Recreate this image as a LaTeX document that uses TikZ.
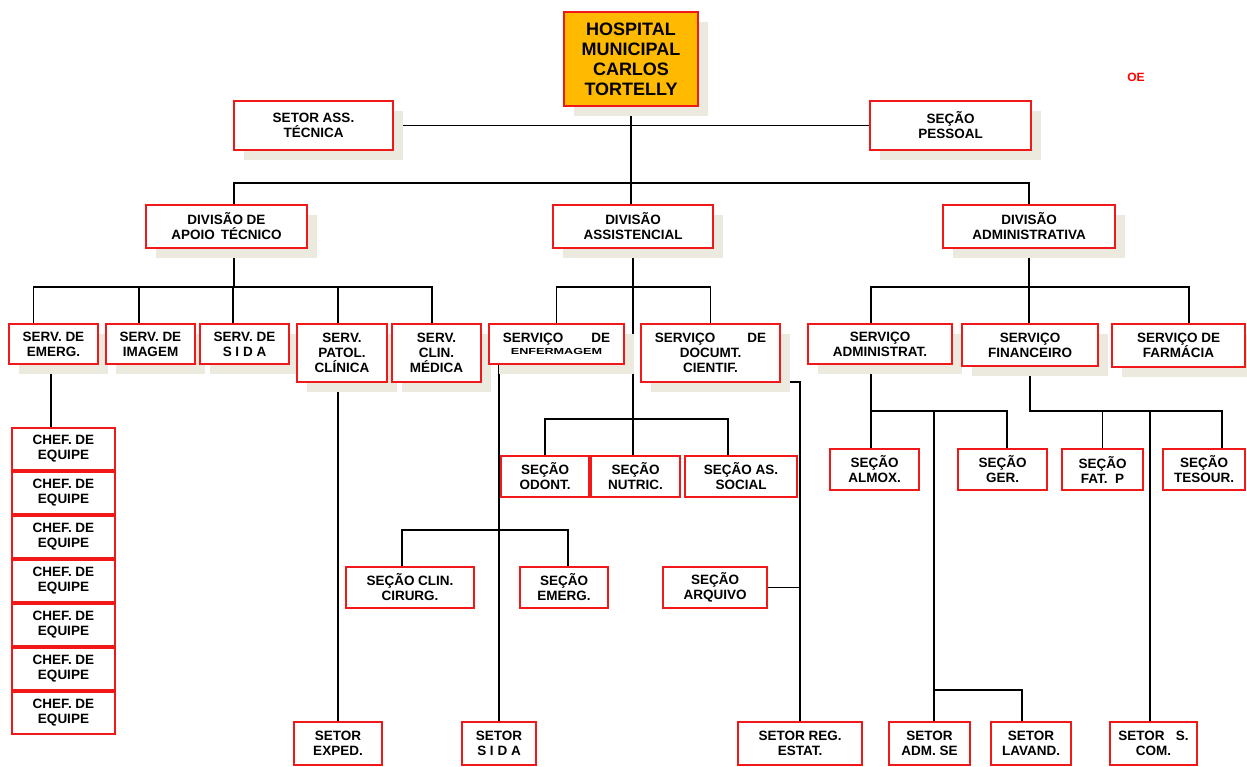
\documentclass[tikz,border=0pt]{standalone}
\usepackage{fontspec}
\usepackage{graphicx}
\setmainfont{Liberation Sans}
\usetikzlibrary{shadows}
\definecolor{boxred}{HTML}{F01818}
\definecolor{hospfill}{HTML}{FFBA00}
\definecolor{shadowcol}{HTML}{ECE9DE}
\pgfdeclarelayer{bg}
\pgfsetlayers{bg,main}
\tikzset{
  box/.style={draw=boxred, line width=1.6pt, fill=white, inner sep=0pt, outer sep=0pt, align=center,
    font=\bfseries\fontsize{13.5}{15}\selectfont},
  sbox/.style={box, drop shadow={shadow xshift=10pt, shadow yshift=-10pt, fill=shadowcol, opacity=1}},
  link/.style={line width=1.4pt, draw=black},
}
\newcommand{\bx}[7]{\node[#1, minimum width=#4 pt - #3 pt, minimum height=#6 pt - #5 pt] (#2) at ({(#3+#4)/2},{(#5+#6)/2}) {#7};}
\begin{document}
\begin{tikzpicture}[x=1pt,y=-1pt]
\useasboundingbox (0,0) rectangle (1247,767);
\begin{pgfonlayer}{bg}
\fill[white] (0,0) rectangle (1247,767);
\end{pgfonlayer}
% top
\node[sbox, fill=hospfill, minimum width=134pt, minimum height=94pt, font=\bfseries\fontsize{18}{20}\selectfont] (hosp) at (631,59) {HOSPITAL\\MUNICIPAL\\CARLOS\\TORTELLY};
\node[text=red, font=\bfseries\fontsize{12}{12}\selectfont] (oe) at (1136,77) {OE};
\bx{sbox}{setorass}{234}{393}{101}{150}{SETOR ASS.\\TÉCNICA}
\bx{sbox}{pessoal}{870}{1031}{101}{150}{SEÇÃO\\PESSOAL}
% divisions
\bx{sbox}{dapoio}{146}{307}{205}{248}{DIVISÃO DE\\APOIO\, TÉCNICO}
\bx{sbox}{dassist}{553}{713}{205}{248}{DIVISÃO\\ASSISTENCIAL}
\bx{sbox}{dadm}{943}{1115}{205}{248}{DIVISÃO\\ADMINISTRATIVA}
% services
\bx{sbox}{emerg}{9}{98}{324}{364}{SERV. DE\\EMERG.}
\bx{sbox}{imagem}{106}{195}{324}{364}{SERV. DE\\IMAGEM}
\bx{sbox}{sida}{200}{289}{324}{364}{SERV. DE\\S I D A}
\bx{sbox}{patol}{297}{387}{324}{382}{SERV.\\PATOL.\\CLÍNICA}
\bx{sbox}{clin}{392}{481}{324}{382}{SERV.\\CLIN.\\MÉDICA}
\bx{sbox}{enf}{489}{624}{324}{364}{SERVIÇO\hspace{28pt}DE\\[-3pt]\scalebox{1.15}[0.8]{\fontsize{11}{12}\selectfont ENFERMAGEM}}
\bx{sbox}{cientif}{641}{780}{324}{382}{SERVIÇO\hspace{32pt}DE\\DOCUMT.\\CIENTIF.}
\bx{sbox}{admstrat}{808}{952}{324}{364}{SERVIÇO\\ADMINISTRAT.}
\bx{sbox}{fin}{962}{1098}{324}{366}{SERVIÇO\\FINANCEIRO}
\bx{sbox}{farm}{1112}{1245}{324}{367}{SERVIÇO DE\\FARMÁCIA}
% sections
\bx{box}{odont}{501}{589}{456}{497}{SEÇÃO\\ODONT.}
\bx{box}{nutric}{591}{680}{456}{497}{SEÇÃO\\NUTRIC.}
\bx{box}{social}{685}{797}{456}{497}{SEÇÃO AS.\\SOCIAL}
\bx{box}{almox}{830}{919}{449}{490}{SEÇÃO\\ALMOX.}
\bx{box}{ger}{958}{1047}{449}{490}{SEÇÃO\\GER.}
\bx{box}{fat}{1062}{1143}{449}{490}{SEÇÃO\\FAT.~~P}
\bx{box}{tesour}{1163}{1245}{449}{490}{SEÇÃO\\TESOUR.}
\bx{box}{clincir}{346}{474}{567}{608}{SEÇÃO CLIN.\\CIRURG.}
\bx{box}{semerg}{520}{608}{567}{608}{SEÇÃO\\EMERG.}
\bx{box}{arquivo}{663}{767}{567}{608}{SEÇÃO\\ARQUIVO}
% chef de equipe
\bx{box}{chefa}{12}{115}{428}{470}{CHEF. DE\\EQUIPE}
\bx{box}{chefb}{12}{115}{472}{514}{CHEF. DE\\EQUIPE}
\bx{box}{chefc}{12}{115}{516}{558}{CHEF. DE\\EQUIPE}
\bx{box}{chefd}{12}{115}{560}{602}{CHEF. DE\\EQUIPE}
\bx{box}{chefe}{12}{115}{604}{646}{CHEF. DE\\EQUIPE}
\bx{box}{cheff}{12}{115}{648}{690}{CHEF. DE\\EQUIPE}
\bx{box}{chefg}{12}{115}{692}{734}{CHEF. DE\\EQUIPE}
% bottom row
\bx{box}{exped}{294}{382}{722}{765}{SETOR\\EXPED.}
\bx{box}{sidab}{462}{536}{722}{765}{SETOR\\S I D A}
\bx{box}{regestat}{738}{862}{722}{765}{SETOR REG.\\ESTAT.}
\bx{box}{admse}{889}{970}{722}{765}{SETOR\\ADM. SE}
\bx{box}{lavand}{991}{1071}{722}{765}{SETOR\\LAVAND.}
\bx{box}{scom}{1110}{1197}{722}{765}{SETOR~~~S.\\COM.}
% bus coordinates
\coordinate (y183) at (0,183);
\coordinate (y287) at (0,287);
\coordinate (y411) at (0,411);
\coordinate (y419) at (0,419);
\coordinate (y530) at (0,530);
\coordinate (y690) at (0,690);
\begin{pgfonlayer}{bg}
% top
\draw[link] (hosp.south) -- (hosp.south |- dassist.north);
\draw[link] (setorass.east) -- (pessoal.west);
\draw[link] ([xshift=7.5]dapoio.north) -- ([xshift=7.5]dapoio.north |- y183) -| (dadm.north);
% apoio
\draw[link] ([xshift=7.5]dapoio.south) -- ([xshift=7.5]dapoio.south |- y287);
\draw[link] ([xshift=-20]emerg.north) -- ([xshift=-20]emerg.north |- y287) -| ([xshift=-4.5]clin.north);
\draw[link] ([xshift=-11.5]imagem.north) -- ([xshift=-11.5]imagem.north |- y287);
\draw[link] ([xshift=-11.5]sida.north) -- ([xshift=-11.5]sida.north |- y287);
\draw[link] ([xshift=-4]patol.north) -- ([xshift=-4]patol.north |- y287);
\draw[link] ([xshift=-2.5]emerg.south) -- ([xshift=-2.5]emerg.south |- chefa.north);
\draw[link] (exped.north |- patol.south) -- (exped.north);
% assistencial
\draw[link] (dassist.south) -- (dassist.south |- nutric.north);
\draw[link] (enf.north) -- (enf.north |- y287) -| (cientif.north);
\draw[link] (odont.north) -- (odont.north |- y419) -| ([xshift=-13]social.north);
\draw[link] (enf.south -| sidab.north) -- (sidab.north);
\draw[link] ([xshift=-8]clincir.north) -- ([xshift=-8]clincir.north |- y530) -| ([xshift=4]semerg.north);
\draw[link] (cientif.south east) -| (regestat.north);
\draw[link] (arquivo.east) -- (arquivo.east -| regestat.north);
% administrativa
\draw[link] (dadm.south) -- (dadm.south |- fin.north);
\draw[link] ([xshift=-9]admstrat.north) -- ([xshift=-9]admstrat.north |- y287) -| ([xshift=10.5]farm.north);
\draw[link] ([xshift=-9]admstrat.south) -- ([xshift=-9]admstrat.south |- almox.north);
\draw[link] ([xshift=-9]admstrat.south |- y411) -| ([xshift=4.5]ger.north);
\draw[link] ([xshift=4.5]admse.north) -- ([xshift=4.5]admse.north |- y411);
\draw[link] ([xshift=4.5]admse.north |- y690) -| ([xshift=-9]lavand.north);
\draw[link] (fin.south) -- (fin.south |- y411) -| ([xshift=18]tesour.north);
\draw[link] (fat.north) -- (fat.north |- y411);
\draw[link] ([xshift=-3.5]scom.north) -- ([xshift=-3.5]scom.north |- y411);
\end{pgfonlayer}
\end{tikzpicture}
\end{document}
